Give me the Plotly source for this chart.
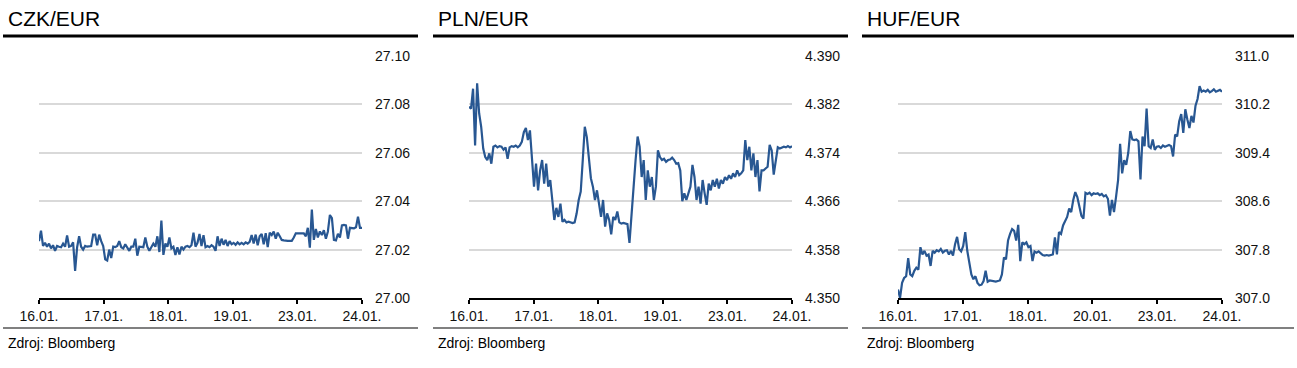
import numpy as np
import plotly.graph_objects as go

W, H = 1297, 368

# ---------------- data ----------------
day_labels_czk = ["16.01.", "17.01.", "18.01.", "19.01.", "23.01.", "24.01."]
day_labels_pln = ["16.01.", "17.01.", "18.01.", "19.01.", "23.01.", "24.01."]
day_labels_huf = ["16.01.", "17.01.", "18.01.", "20.01.", "23.01.", "24.01."]

czk_ticks = [27.00, 27.02, 27.04, 27.06, 27.08, 27.10]
czk_ticktext = ["27.00", "27.02", "27.04", "27.06", "27.08", "27.10"]
pln_ticks = [4.350, 4.358, 4.366, 4.374, 4.382, 4.390]
pln_ticktext = ["4.350", "4.358", "4.366", "4.374", "4.382", "4.390"]
huf_ticks = [307.0, 307.8, 308.6, 309.4, 310.2, 311.0]
huf_ticktext = ["307.0", "307.8", "308.6", "309.4", "310.2", "311.0"]

czk_values = [
    # 16.01.
    27.0235, 27.0278, 27.0215, 27.0228, 27.0212, 27.0225, 27.0205, 27.0218, 27.0195, 27.0215,
    27.0212, 27.0210, 27.0225, 27.0212, 27.0258, 27.0212, 27.0215, 27.0230, 27.0112, 27.0210,
    27.0255, 27.0212, 27.0200, 27.0215, 27.0212, 27.0212, 27.0215, 27.0262, 27.0262, 27.0218,
    27.0262, 27.0235,
    # 17.01.
    27.0215, 27.0160, 27.0155, 27.0200, 27.0165, 27.0212, 27.0210, 27.0215, 27.0235, 27.0210,
    27.0205, 27.0222, 27.0210, 27.0195, 27.0212, 27.0212, 27.0245, 27.0175, 27.0212, 27.0212,
    27.0210, 27.0250, 27.0212, 27.0195, 27.0210, 27.0225, 27.0212, 27.0255, 27.0190, 27.0320,
    27.0178, 27.0225,
    # 18.01.
    27.0212, 27.0250, 27.0205, 27.0212, 27.0178, 27.0210, 27.0180, 27.0212, 27.0200, 27.0212,
    27.0215, 27.0210, 27.0218, 27.0270, 27.0212, 27.0228, 27.0265, 27.0215, 27.0260, 27.0210,
    27.0215, 27.0210, 27.0218, 27.0212, 27.0195, 27.0255, 27.0215, 27.0245, 27.0220, 27.0240,
    27.0215, 27.0235,
    # 19.01.
    27.0222, 27.0228, 27.0220, 27.0230, 27.0222, 27.0228, 27.0222, 27.0230, 27.0225, 27.0232,
    27.0260, 27.0225, 27.0262, 27.0218, 27.0255, 27.0265, 27.0222, 27.0268, 27.0210, 27.0270,
    27.0260, 27.0275, 27.0245, 27.0270, 27.0255, 27.0240, 27.0238, 27.0236, 27.0236, 27.0236,
    27.0236, 27.0250,
    # 23.01. - 24.01.
    27.0267, 27.0267, 27.0267, 27.0267, 27.0267, 27.0255, 27.0290, 27.0208, 27.0365, 27.0240,
    27.0285, 27.0250, 27.0275, 27.0260, 27.0280, 27.0245, 27.0275, 27.0343, 27.0330, 27.0240,
    27.0238, 27.0265, 27.0250, 27.0300, 27.0302, 27.0300, 27.0245, 27.0290, 27.0290, 27.0288,
    27.0292, 27.0336, 27.0290, 27.0290,
]

pln_values = [
    4.3816, 4.3813, 4.3846, 4.3752, 4.3855, 4.3805, 4.3783, 4.3747, 4.3733, 4.3728,
    4.3739, 4.3722, 4.3750, 4.3752, 4.3749, 4.3751, 4.3750, 4.3745, 4.3749, 4.3730,
    4.3749, 4.3751, 4.3750, 4.3752, 4.3749, 4.3752, 4.3758, 4.3774, 4.3781, 4.3761,
    4.3777, 4.3733, 4.3684, 4.3722, 4.3678, 4.3711, 4.3728, 4.3689, 4.3722, 4.3684,
    4.3695, 4.3662, 4.3629, 4.3649, 4.3634, 4.3656, 4.3626, 4.3629, 4.3625, 4.3626,
    4.3625, 4.3624, 4.3625, 4.3640, 4.3662, 4.3676, 4.3728, 4.3783, 4.3766, 4.3728,
    4.3698, 4.3684, 4.3662, 4.3678, 4.3651, 4.3634, 4.3662, 4.3618, 4.3640, 4.3629,
    4.3605, 4.3634, 4.3629, 4.3643, 4.3625, 4.3623, 4.3624, 4.3623, 4.3622, 4.3591,
    4.3640, 4.3684, 4.3728, 4.3767, 4.3750, 4.3700, 4.3728, 4.3662, 4.3711, 4.3684,
    4.3700, 4.3662, 4.3684, 4.3744, 4.3733, 4.3728, 4.3730, 4.3725, 4.3728, 4.3729,
    4.3732, 4.3728, 4.3722, 4.3723, 4.3711, 4.3660, 4.3673, 4.3662, 4.3673, 4.3684,
    4.3720, 4.3700, 4.3662, 4.3684, 4.3656, 4.3695, 4.3673, 4.3654, 4.3689, 4.3678,
    4.3695, 4.3684, 4.3697, 4.3681, 4.3695, 4.3689, 4.3700, 4.3695, 4.3703, 4.3697,
    4.3706, 4.3700, 4.3711, 4.3703, 4.3706, 4.3711, 4.3761, 4.3728, 4.3750, 4.3711,
    4.3739, 4.3700, 4.3728, 4.3676, 4.3711, 4.3711, 4.3714, 4.3717, 4.3753, 4.3744,
    4.3704, 4.3728, 4.3749, 4.3747, 4.3749, 4.3750, 4.3749, 4.3751, 4.3749, 4.3751,
]

huf_values = [
    307.14, 307.00, 307.25, 307.33, 307.36, 307.66, 307.39, 307.36, 307.45, 307.50,
    307.47, 307.84, 307.72, 307.78, 307.70, 307.72, 307.53, 307.78, 307.75, 307.79,
    307.77, 307.81, 307.75, 307.78, 307.79, 307.72, 307.78, 307.70, 307.89, 308.01,
    307.81, 307.77, 307.86, 308.09, 307.78, 307.61, 307.39, 307.31, 307.36, 307.25,
    307.21, 307.22, 307.28, 307.45, 307.27, 307.29, 307.28, 307.28, 307.27, 307.28,
    307.29, 307.39, 307.67, 307.64, 307.95, 308.06, 308.14, 308.11, 307.95, 308.21,
    307.61, 307.92, 307.89, 307.92, 307.84, 307.86, 307.61, 307.77, 307.75, 307.77,
    307.74, 307.71, 307.70, 307.71, 307.70, 307.71, 307.72, 308.00, 307.72, 308.09,
    308.06, 308.20, 308.28, 308.34, 308.48, 308.42, 308.62, 308.75, 308.67, 308.53,
    308.36, 308.31, 308.74, 308.72, 308.74, 308.70, 308.73, 308.72, 308.73, 308.70,
    308.72, 308.68, 308.70, 308.64, 308.36, 308.62, 308.42, 308.67, 308.95, 309.55,
    309.06, 309.28, 309.20, 309.40, 309.76, 309.62, 309.61, 309.62, 309.59, 308.96,
    309.67, 309.51, 310.13, 309.51, 309.48, 309.62, 309.45, 309.50, 309.51, 309.48,
    309.52, 309.50, 309.51, 309.53, 309.51, 309.34, 309.70, 309.67, 309.92, 310.04,
    309.73, 310.12, 309.95, 309.81, 310.01, 309.90, 310.18, 310.29, 310.50, 310.41,
    310.43, 310.41, 310.44, 310.40, 310.42, 310.45, 310.41, 310.43, 310.44, 310.41,
]

titles = ["CZK/EUR", "PLN/EUR", "HUF/EUR"]
source_text = "Zdroj: Bloomberg"

# ---------------- style / layout ----------------
LINE_COLOR = "#285792"
GRID_COLOR = "#d9d9d9"
TEXT_COLOR = "#111111"
FONT = "Liberation Sans, Arial, sans-serif"

panels = [
    dict(values=czk_values, labels=day_labels_czk, ticks=czk_ticks, ticktext=czk_ticktext,
         x0=39, x1=362, block=(3, 418), title=titles[0]),
    dict(values=pln_values, labels=day_labels_pln, ticks=pln_ticks, ticktext=pln_ticktext,
         x0=469, x1=792, block=(433, 848), title=titles[1]),
    dict(values=huf_values, labels=day_labels_huf, ticks=huf_ticks, ticktext=huf_ticktext,
         x0=898, x1=1222, block=(862, 1294), title=titles[2]),
]

PLOT_TOP, PLOT_BOTTOM = 56, 298


def px_x(p):
    return p / W


def px_y(p):
    return 1 - p / H


fig = go.Figure()
shapes = []
annotations = []

for k, p in enumerate(panels, start=1):
    xa = "x" if k == 1 else f"x{k}"
    ya = "y" if k == 1 else f"y{k}"
    n_days = len(p["labels"]) - 1
    xs = np.linspace(0, n_days, len(p["values"]))
    fig.add_trace(go.Scatter(
        x=xs, y=p["values"], mode="lines", xaxis=xa, yaxis=ya,
        line=dict(color=LINE_COLOR, width=2.2), hoverinfo="skip", showlegend=False,
    ))
    xkey = "xaxis" if k == 1 else f"xaxis{k}"
    ykey = "yaxis" if k == 1 else f"yaxis{k}"
    fig.update_layout({
        xkey: dict(
            domain=[px_x(p["x0"]), px_x(p["x1"])],
            anchor=ya, range=[0, n_days],
            tickvals=list(range(n_days + 1)), ticktext=p["labels"],
            showgrid=False, zeroline=False, automargin=False,
            showline=True, linecolor="#000000", linewidth=2,
            ticks="outside", ticklen=4, tickwidth=2, tickcolor="#000000",
            tickfont=dict(family=FONT, size=14, color=TEXT_COLOR),
            fixedrange=True,
        ),
        ykey: dict(
            domain=[px_y(PLOT_BOTTOM), px_y(PLOT_TOP)],
            anchor=xa, side="right",
            range=[p["ticks"][0], p["ticks"][-1]],
            tickvals=p["ticks"], ticktext=p["ticktext"],
            showgrid=True, gridcolor=GRID_COLOR, gridwidth=1.5,
            zeroline=False, showline=False, ticks="", automargin=False,
            ticklabelstandoff=12,
            tickfont=dict(family=FONT, size=14, color=TEXT_COLOR),
            fixedrange=True,
        ),
    })
    b0, b1 = p["block"]
    # header black rule
    shapes.append(dict(type="line", xref="paper", yref="paper",
                       x0=px_x(b0), x1=px_x(b1), y0=px_y(36), y1=px_y(36),
                       line=dict(color="#000000", width=3)))
    # bottom grey rule
    shapes.append(dict(type="line", xref="paper", yref="paper",
                       x0=px_x(b0), x1=px_x(b1), y0=px_y(328), y1=px_y(328),
                       line=dict(color="#808080", width=2)))
    annotations.append(dict(text=p["title"], xref="paper", yref="paper",
                            x=px_x(b0 + 3), y=px_y(18), xanchor="left", yanchor="middle",
                            showarrow=False,
                            font=dict(family=FONT, size=21, color="#000000")))
    annotations.append(dict(text=source_text, xref="paper", yref="paper",
                            x=px_x(b0 + 3), y=px_y(343), xanchor="left", yanchor="middle",
                            showarrow=False,
                            font=dict(family=FONT, size=14, color="#000000")))

fig.update_layout(
    width=W, height=H,
    margin=dict(l=0, r=0, t=0, b=0, autoexpand=False),
    paper_bgcolor="#ffffff", plot_bgcolor="#ffffff",
    shapes=shapes, annotations=annotations,
    showlegend=False,
)

fig.write_html(
    "out.html",
    config={"displayModeBar": False},
    post_script="document.body.style.margin='0';document.body.style.overflow='hidden';",
)
